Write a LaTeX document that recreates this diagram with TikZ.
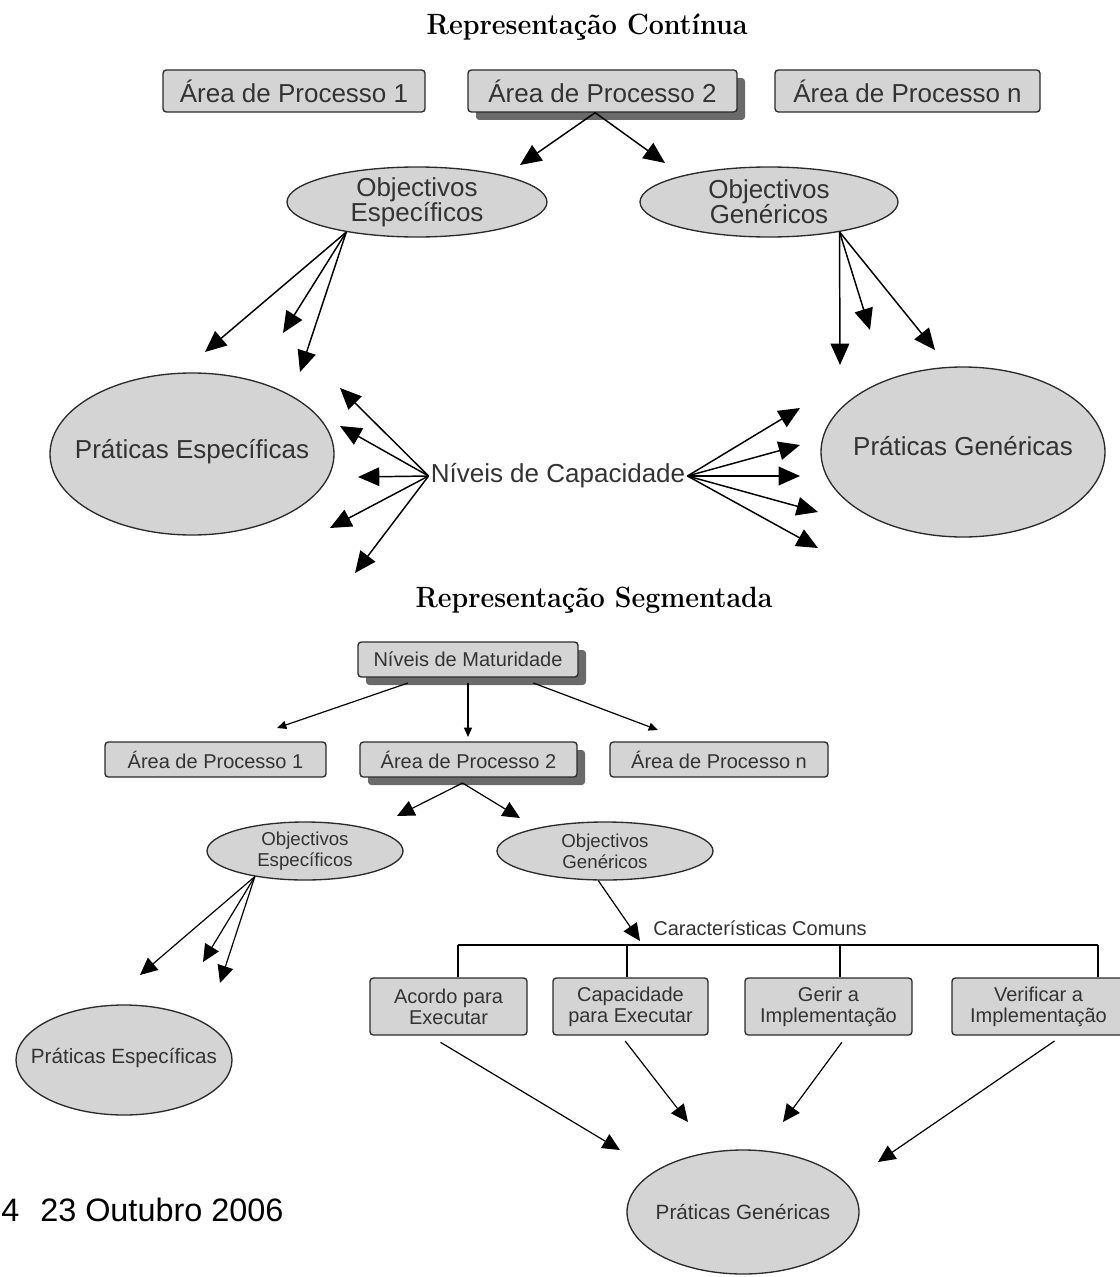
\documentclass[tikz,border=0pt]{standalone}
\usepackage{fontspec}
\usepackage{graphicx}
\setsansfont{Liberation Sans}
\usetikzlibrary{arrows.meta,shapes.geometric,shadows}

\definecolor{boxfill}{HTML}{D4D4D4}
\definecolor{boxline}{HTML}{2B2B2B}
\definecolor{txt}{HTML}{333333}
\definecolor{shade}{HTML}{6A6A6A}

\begin{document}
\begin{tikzpicture}[x=0.75pt,y=-0.75pt,font=\sffamily,
  box/.style={draw=boxline,fill=boxfill,line width=1pt,rounded corners=2.5pt,
              inner sep=0pt,text=txt,align=center},
  shadowed/.style={drop shadow={shadow xshift=6pt,shadow yshift=-6pt,fill=shade,opacity=1}},
  ell/.style={ellipse,draw=boxline,fill=boxfill,line width=1pt,inner sep=0pt},
  lbl/.style={text=txt,align=center,inner sep=0pt},
  bigtxt/.style={font=\sffamily\fontsize{19.5}{19}\selectfont},
  smalltxt/.style={font=\sffamily\fontsize{15}{15.75}\selectfont},
  title/.style={font=\rmfamily\bfseries\fontsize{22}{26}\selectfont,inner sep=0pt},
  bigarrow/.style={line width=1.1pt,-{Triangle[length=16pt,width=14pt]}},
  midarrow/.style={line width=0.9pt,-{Triangle[length=13pt,width=12pt]}},
  tinyarrow/.style={line width=0.9pt,-{Triangle[length=7pt,width=6pt]}},
  plain/.style={line width=0.9pt,draw=black}]

\useasboundingbox (0,0) rectangle (1120,1277);
\clip (0,0) rectangle (1120,1277);

% ---------------- continuous representation ----------------
\node[title] (t1) at (587,27) {\scalebox{0.915}[1]{Representação Contínua}};

\node[box,bigtxt,minimum width=196.5pt,minimum height=31.5pt] (b1) at (294,91) {Área de Processo 1};
\node[box,bigtxt,shadowed,minimum width=201.75pt,minimum height=31.5pt] (b2) at (602.5,91) {Área de Processo 2};
\node[box,bigtxt,minimum width=198.75pt,minimum height=31.5pt] (b3) at (907.5,91) {Área de Processo n};

\node[ell,minimum width=195pt,minimum height=52.5pt] (oe) at (417,202) {};
\node[lbl,bigtxt] (oe-t) at (oe) {Objectivos\\Específicos};
\node[ell,minimum width=193.5pt,minimum height=52.5pt] (og) at (769,202) {};
\node[lbl,bigtxt] (og-t) at (og) {Objectivos\\Genéricos};

\node[ell,minimum width=213pt,minimum height=121.5pt] (pe) at (192,454) {};
\node[lbl,bigtxt] (pe-t) at (192,452) {Práticas Específicas};
\node[ell,minimum width=213pt,minimum height=127.5pt] (pg) at (963,452) {};
\node[lbl,bigtxt] (pg-t) at (963,446) {Práticas Genéricas};

\node[lbl,bigtxt,inner sep=1.5pt,fill=white] (nc) at (558,476) {Níveis de Capacidade};

% free arrow ends
\coordinate (oe-in) at (520,165);
\coordinate (og-in) at (665,163);
\coordinate (pe-a) at (205,352);
\coordinate (pe-b) at (283,333);
\coordinate (pe-c) at (300,372);
\coordinate (pg-a) at (840,365);
\coordinate (pg-b) at (870,330);
\coordinate (pg-c) at (935,350);
\coordinate (ncl1) at (340,388);
\coordinate (ncl2) at (340,426);
\coordinate (ncl3) at (358,477);
\coordinate (ncl4) at (330,528);
\coordinate (ncl5) at (355,573);
\coordinate (ncr1) at (800,408);
\coordinate (ncr2) at (800,445);
\coordinate (ncr3) at (800,476);
\coordinate (ncr4) at (818,512);
\coordinate (ncr5) at (818,548);

\draw[bigarrow] ([xshift=-5.5pt]b2.south) -- (oe-in);
\draw[bigarrow] ([xshift=-5.5pt]b2.south) -- (og-in);
\foreach \t in {pe-a,pe-b,pe-c} \draw[bigarrow] (oe.203) -- (\t);
\foreach \t in {pg-a,pg-b,pg-c} \draw[bigarrow] (og.337) -- (\t);
\foreach \t in {ncl1,ncl2,ncl3,ncl4,ncl5} \draw[bigarrow] (nc.west) -- (\t);
\foreach \t in {ncr1,ncr2,ncr3,ncr4,ncr5} \draw[bigarrow] (nc.east) -- (\t);

% ---------------- staged representation ----------------
\node[title] (t2) at (594,600) {\scalebox{0.91}[1]{Representação Segmentada}};

\node[box,smalltxt,shadowed,minimum width=165pt,minimum height=26.25pt] (nm) at (468,659.5) {Níveis de Maturidade};

\node[box,smalltxt,minimum width=165.75pt,minimum height=26.25pt] (a1) at (215.5,759.5) {Área de Processo 1};
\node[box,smalltxt,shadowed,minimum width=162.75pt,minimum height=26.25pt] (a2) at (468.5,759.5) {Área de Processo 2};
\node[box,smalltxt,minimum width=163.5pt,minimum height=26.25pt] (an) at (719,759.5) {Área de Processo n};

\coordinate (a1-in) at (277,728);
\coordinate (a2-in) at (468,737);
\coordinate (an-in) at (658,730);
\draw[tinyarrow] ([xshift=-45pt,yshift=-4pt]nm.south) -- (a1-in);
\draw[tinyarrow] ([yshift=-4pt]nm.south) -- (a2-in);
\draw[tinyarrow] ([xshift=49pt,yshift=-4pt]nm.south) -- (an-in);

\node[ell,minimum width=147pt,minimum height=43.5pt] (oe2) at (305,851) {};
\node[lbl,font=\sffamily\fontsize{14}{15.75}\selectfont] (oe2-t) at (oe2) {Objectivos\\Específicos};
\node[ell,minimum width=162pt,minimum height=43.5pt] (og2) at (605,851) {};
\node[lbl,font=\sffamily\fontsize{14}{15.75}\selectfont] (og2-t) at (og2) {Objectivos\\Genéricos};

\coordinate (oe2-in) at (397,816);
\coordinate (og2-in) at (520,818);
\draw[midarrow] ([xshift=-4.5pt,yshift=-4pt]a2.south) -- (oe2-in);
\draw[midarrow] ([xshift=-4.5pt,yshift=-4pt]a2.south) -- (og2-in);

\node[ell,minimum width=162pt,minimum height=82.5pt] (pe2) at (124,1060) {};
\node[lbl,font=\sffamily\fontsize{15.5}{18}\selectfont] (pe2-t) at (124,1058) {Práticas Específicas};

\coordinate (pe2-a) at (140,975);
\coordinate (pe2-b) at (203,962);
\coordinate (pe2-c) at (220,983);
\foreach \t in {pe2-a,pe2-b,pe2-c} \draw[midarrow] (oe2.207) -- (\t);

% common features bar
\node[lbl,smalltxt] (cc) at (760,928) {Características Comuns};
\coordinate (cc-in) at (640,941);
\draw[midarrow] ([xshift=-5pt]og2.south) -- (cc-in);

\node[box,smalltxt,minimum width=117.75pt,minimum height=42.75pt] (ae) at (448.5,1006.5) {Acordo para\\Executar};
\node[box,smalltxt,minimum width=116.25pt,minimum height=42.75pt] (ce) at (630.5,1006.5) {Capacidade\\para Executar};
\node[box,smalltxt,minimum width=125.25pt,minimum height=42.75pt] (gi) at (828.5,1006.5) {Gerir a\\Implementação};
\node[box,smalltxt,minimum width=129.75pt,minimum height=42.75pt] (vi) at (1038.5,1006.5) {Verificar a\\Implementação};

\coordinate (bar1) at (458,945);
\coordinate (bar2) at (627,945);
\coordinate (bar3) at (840,945);
\coordinate (bar4) at (1098,945);
\draw[plain] (bar1) -- (bar4);
\draw[plain] (bar1) -- (bar1 |- ae.north);
\draw[plain] (bar2) -- (bar2 |- ce.north);
\draw[plain] (bar3) -- (bar3 |- gi.north);
\draw[plain] (bar4) -- (bar4 |- vi.north);

\node[ell,minimum width=174pt,minimum height=93pt] (pg2) at (743,1212) {};
\node[lbl,font=\sffamily\fontsize{15.5}{18}\selectfont] (pg2-t) at (pg2) {Práticas Genéricas};

\coordinate (pg2-a) at (620,1150);
\coordinate (pg2-b) at (688,1122);
\coordinate (pg2-c) at (783,1122);
\coordinate (pg2-d) at (878,1162);
\draw[midarrow] ([xshift=-6pt,yshift=-5pt]ae.south) -- (pg2-a);
\draw[midarrow] ([xshift=-4pt,yshift=-4pt]ce.south) -- (pg2-b);
\draw[midarrow] ([xshift=10pt,yshift=-5pt]gi.south) -- (pg2-c);
\draw[midarrow] ([xshift=12pt,yshift=-4pt]vi.south) -- (pg2-d);

% footer
\node[anchor=west,inner sep=0pt,font=\sffamily\fontsize{24.3}{28}\selectfont] (pgno) at (1,1210) {4};
\node[anchor=west,inner sep=0pt,font=\sffamily\fontsize{24.3}{28}\selectfont] (date) at (40,1210) {23 Outubro 2006};
\end{tikzpicture}
\end{document}
